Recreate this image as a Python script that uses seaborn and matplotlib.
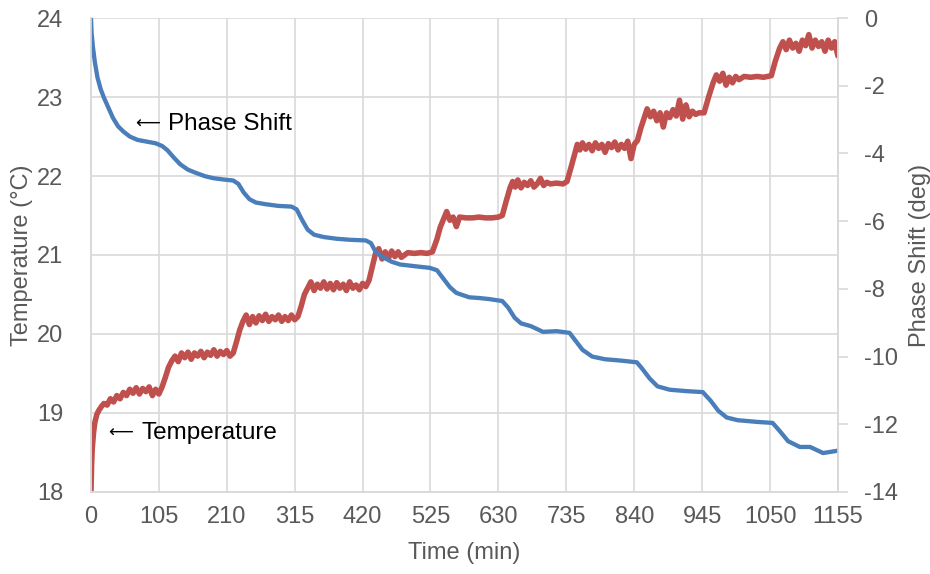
import pandas as pd
import matplotlib
matplotlib.use("Agg")
import matplotlib.pyplot as plt
import seaborn as sns

# Час (хв) і температура (°C)
temp_time = [0, 1, 2, 4, 6, 9, 12, 16, 20, 25, 30, 35, 40, 45, 50, 55, 60, 65, 70, 75,
             80, 85, 90, 95, 100, 105, 110, 115, 120, 125, 130, 135, 140, 145, 150, 155,
             160, 165, 170, 175, 180, 185, 190, 195, 200, 205, 210, 215, 220, 225, 230,
             235, 240, 245, 250, 255, 260, 265, 270, 275, 280, 285, 290, 295, 300, 305,
             310, 315, 320, 325, 330, 335, 340, 345, 350, 355, 360, 365, 370, 375, 380,
             385, 390, 395, 400, 405, 410, 415, 420, 425, 430, 435, 440, 445, 450, 455,
             460, 465, 470, 475, 480, 490, 500, 510, 520, 528, 535, 540, 545, 550, 555,
             560, 565, 570, 580, 590, 600, 610, 620, 630, 636, 642, 648, 652, 656, 660,
             665, 670, 675, 680, 685, 690, 695, 700, 705, 710, 720, 730, 736, 742, 748,
             752, 756, 760, 765, 770, 775, 780, 785, 790, 795, 800, 805, 810, 815, 820,
             825, 830, 835, 840, 845, 850, 856, 860, 865, 870, 875, 880, 885, 890, 895,
             900, 905, 910, 915, 920, 925, 930, 935, 940, 948, 955, 962, 967, 972, 977,
             982, 987, 992, 997, 1002, 1010, 1020, 1030, 1040, 1052, 1058, 1065, 1070,
             1075, 1080, 1085, 1090, 1095, 1100, 1105, 1110, 1115, 1120, 1125, 1130,
             1135, 1140, 1145, 1150, 1155]
temperature = [18.00, 18.35, 18.55, 18.75, 18.88, 18.98, 19.03, 19.08, 19.12, 19.10,
               19.18, 19.14, 19.22, 19.18, 19.26, 19.22, 19.30, 19.25, 19.32, 19.24,
               19.31, 19.27, 19.33, 19.22, 19.30, 19.24, 19.33, 19.45, 19.58, 19.66,
               19.72, 19.65, 19.76, 19.70, 19.77, 19.68, 19.76, 19.72, 19.78, 19.70,
               19.77, 19.73, 19.80, 19.72, 19.78, 19.74, 19.79, 19.72, 19.76, 19.90,
               20.05, 20.16, 20.24, 20.12, 20.22, 20.14, 20.23, 20.17, 20.25, 20.16,
               20.22, 20.18, 20.24, 20.16, 20.22, 20.17, 20.24, 20.18, 20.22, 20.35,
               20.50, 20.58, 20.66, 20.55, 20.63, 20.58, 20.66, 20.57, 20.64, 20.56,
               20.65, 20.58, 20.63, 20.55, 20.66, 20.58, 20.62, 20.56, 20.64, 20.60,
               20.68, 20.85, 21.02, 21.08, 20.95, 21.04, 20.96, 21.05, 20.98, 21.04,
               20.97, 21.03, 21.02, 21.03, 21.02, 21.04, 21.20, 21.35, 21.45, 21.55,
               21.44, 21.48, 21.36, 21.48, 21.47, 21.47, 21.48, 21.47, 21.47, 21.48,
               21.50, 21.68, 21.85, 21.93, 21.86, 21.95, 21.85, 21.92, 21.88, 21.94,
               21.86, 21.90, 21.97, 21.88, 21.92, 21.90, 21.91, 21.90, 21.93, 22.10,
               22.28, 22.40, 22.33, 22.42, 22.34, 22.40, 22.32, 22.42, 22.35, 22.40,
               22.30, 22.41, 22.36, 22.43, 22.33, 22.40, 22.35, 22.44, 22.22, 22.40,
               22.45, 22.60, 22.75, 22.85, 22.75, 22.82, 22.70, 22.80, 22.62, 22.80,
               22.74, 22.84, 22.76, 22.96, 22.72, 22.90, 22.75, 22.82, 22.78, 22.80,
               22.80, 23.00, 23.18, 23.28, 23.20, 23.30, 23.15, 23.25, 23.18, 23.26,
               23.22, 23.26, 23.25, 23.26, 23.25, 23.27, 23.45, 23.62, 23.70, 23.60,
               23.72, 23.62, 23.68, 23.58, 23.72, 23.65, 23.79, 23.62, 23.72, 23.64,
               23.70, 23.58, 23.72, 23.62, 23.70, 23.52]

# Час (хв) і фазовий зсув (град)
phase_time = [0, 1, 3, 6, 10, 15, 20, 27, 34, 42, 50, 60, 72, 86, 100, 110, 118, 128,
              138, 150, 163, 176, 189, 205, 220, 228, 236, 245, 255, 270, 290, 310, 318,
              326, 335, 345, 360, 380, 400, 425, 433, 440, 450, 465, 478, 500, 524, 535,
              545, 555, 565, 585, 600, 615, 636, 645, 655, 665, 680, 699, 720, 740, 750,
              760, 775, 795, 820, 844, 852, 864, 876, 895, 920, 946, 958, 970, 983, 1000,
              1030, 1054, 1065, 1078, 1096, 1112, 1132, 1155]
phase_shift = [0.0, -0.45, -0.85, -1.3, -1.75, -2.1, -2.35, -2.65, -2.95, -3.2, -3.35,
               -3.5, -3.6, -3.65, -3.7, -3.78, -3.9, -4.12, -4.32, -4.48, -4.58, -4.67,
               -4.73, -4.77, -4.8, -4.9, -5.15, -5.35, -5.45, -5.5, -5.55, -5.57, -5.65,
               -5.95, -6.25, -6.4, -6.47, -6.52, -6.55, -6.57, -6.65, -6.9, -7.05, -7.2,
               -7.28, -7.33, -7.38, -7.45, -7.7, -7.95, -8.12, -8.25, -8.27, -8.3, -8.36,
               -8.55, -8.85, -9.02, -9.1, -9.27, -9.25, -9.3, -9.55, -9.8, -10.0, -10.08,
               -10.12, -10.17, -10.35, -10.65, -10.88, -10.98, -11.02, -11.05, -11.3,
               -11.6, -11.8, -11.88, -11.93, -11.96, -12.2, -12.5, -12.67, -12.67,
               -12.85, -12.78]

x_ticks = [0, 105, 210, 315, 420, 525, 630, 735, 840, 945, 1050, 1155]
temp_ticks = [18, 19, 20, 21, 22, 23, 24]
phase_ticks = [-14, -12, -10, -8, -6, -4, -2, 0]

# Підписи біля кривих: (час, температура, текст)
notes = [(68, 22.66, "Phase Shift"), (26, 18.75, "Temperature")]

df_t = pd.DataFrame({"t": temp_time, "T": temperature})
df_p = pd.DataFrame({"t": phase_time, "P": phase_shift})

sns.set_style("white")
plt.rcParams["font.family"] = ["Liberation Sans", "DejaVu Sans"]
plt.rcParams["axes.unicode_minus"] = False

gray = "#595959"
grid = "#d9d9d9"

fig = plt.figure(figsize=(9.3, 5.74), dpi=100)
ax = fig.add_axes([0.0978, 0.1429, 0.8032, 0.8257])
ax2 = ax.twinx()

sns.lineplot(data=df_t, x="t", y="T", ax=ax, color="#c0504d", linewidth=4,
             estimator=None, sort=False)
sns.lineplot(data=df_p, x="t", y="P", ax=ax2, color="#4a7ebb", linewidth=3.1,
             estimator=None, sort=False)

ax.set_xlim(0, 1155)
ax.set_ylim(18, 24)
ax2.set_ylim(-14, 0)
ax.set_xticks(x_ticks)
ax.set_yticks(temp_ticks)
ax2.set_yticks(phase_ticks)

ax.grid(True, color=grid, linewidth=1.2)
ax.set_axisbelow(True)

for a in (ax, ax2):
    a.spines["top"].set_visible(False)
    for sp in ["left", "bottom", "right"]:
        a.spines[sp].set_color(grid)
        a.spines[sp].set_linewidth(1.2)

ax.tick_params(axis="both", length=0, labelsize=17, labelcolor=gray)
ax.tick_params(axis="y", pad=20)
ax.tick_params(axis="x", pad=10)
ax2.tick_params(axis="y", length=7, width=1.2, color=grid, labelsize=17,
                labelcolor=gray, pad=12)

ax.set_xlabel("Time (min)", fontsize=17, color=gray, labelpad=10)
ax.set_ylabel("Temperature (°C)", fontsize=17, color=gray, labelpad=3)
ax2.set_ylabel("Phase Shift (deg)", fontsize=17, color=gray, labelpad=8)

for t, v, label in notes:
    ax.text(t, v, "⟵", fontsize=12.5, color="black", ha="left", va="center",
            family="DejaVu Sans")
    ax.annotate(label, xy=(t, v), xytext=(24, 0), textcoords="offset points",
                fontsize=17.5, color="black", ha="left", va="center")

fig.savefig("out.png", dpi=100)
